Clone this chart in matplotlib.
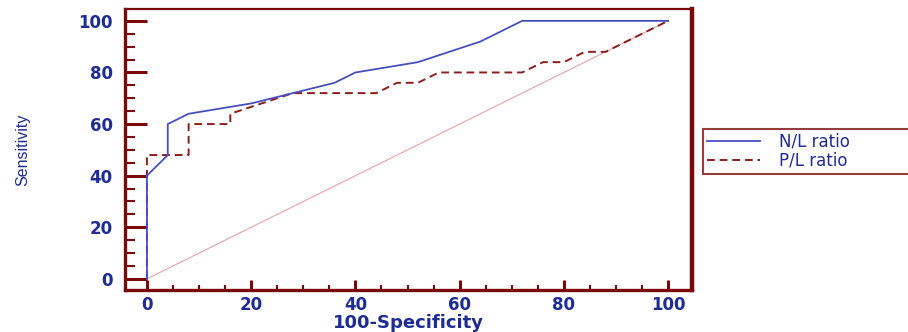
import numpy as np
import matplotlib
matplotlib.use('Agg')
from matplotlib import pyplot as plt
from matplotlib.ticker import MultipleLocator

# ROC curve points (100-Specificity, Sensitivity)
nl_x = [0, 0, 4, 4, 8, 20, 28, 36, 40, 52, 64, 72, 100]
nl_y = [0, 40, 48, 60, 64, 68, 72, 76, 80, 84, 92, 100, 100]
pl_x = [0, 0, 8, 8, 16, 16, 28, 44, 48, 52, 56, 72, 76, 80, 84, 88, 100]
pl_y = [0, 48, 48, 60, 60, 64, 72, 72, 76, 76, 80, 80, 84, 84, 88, 88, 100]
ref_x = [0, 100]
ref_y = [0, 100]
labels = ['N/L ratio', 'P/L ratio']

frame = '#7a0a0a'
txt = '#1f2c94'
blue = '#4650bd'
red = '#8e1c1c'

plt.rcParams['font.family'] = ['DejaVu Sans']

fig = plt.figure(figsize=(9.08, 3.32), dpi=100)
ax = fig.add_axes([0.1377, 0.1265, 0.6245, 0.8464])

ax.plot(ref_x, ref_y, color='#e6a3a3', lw=0.8, zorder=1)
l1, = ax.plot(nl_x, nl_y, color=blue, lw=1.3, zorder=3)
l2, = ax.plot(pl_x, pl_y, color=red, lw=1.4, ls=(0, (4, 2.5)), zorder=2)

ax.set_xlim(-4.2, 104.6)
ax.set_ylim(-4.3, 104.6)
ax.xaxis.set_major_locator(MultipleLocator(20))
ax.xaxis.set_minor_locator(MultipleLocator(5))
ax.yaxis.set_major_locator(MultipleLocator(20))
ax.yaxis.set_minor_locator(MultipleLocator(5))

ax.tick_params(axis='x', which='major', direction='in', length=7.5, width=2.2,
               color=frame, labelcolor=txt, labelsize=12, pad=4)
ax.tick_params(axis='x', which='minor', direction='in', length=3.8, width=1.5, color=frame)
ax.tick_params(axis='y', which='major', direction='in', length=15.5, width=2.2,
               color=frame, labelcolor=txt, labelsize=12, pad=9)
ax.tick_params(axis='y', which='minor', direction='in', length=7.5, width=1.5, color=frame)
for lab in ax.get_xticklabels() + ax.get_yticklabels():
    lab.set_fontweight('bold')

for side, w in [('left', 2.4), ('bottom', 2.4), ('top', 1.6), ('right', 3.2)]:
    ax.spines[side].set_color(frame)
    ax.spines[side].set_linewidth(w)

ax.set_xlabel('100-Specificity', color=txt, fontsize=13, fontweight='bold', labelpad=0)
ax.set_ylabel('Sensitivity', color=txt, fontsize=11.5, family='Liberation Sans')
ax.yaxis.set_label_coords(-0.168, 0.5)

leg = fig.legend([l1, l2], labels, loc='upper left', mode='expand',
                 bbox_to_anchor=(0.774, 0.612, 0.3, 0.0),
                 frameon=True, fancybox=False, handlelength=3.2, handletextpad=1.1,
                 borderpad=0.25, labelspacing=0.05, fontsize=12, borderaxespad=0)
leg.get_frame().set_edgecolor(frame)
leg.get_frame().set_linewidth(1.5)
for t in leg.get_texts():
    t.set_color(txt)

fig.savefig('out.png', dpi=100)
